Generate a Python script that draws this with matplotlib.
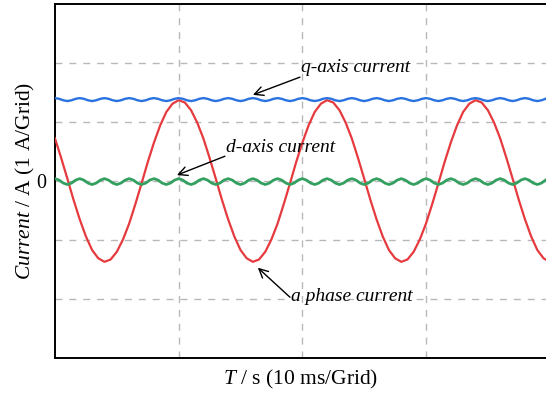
import numpy as np
import matplotlib
matplotlib.use("Agg")
import matplotlib.pyplot as plt

plt.rcParams['font.family'] = ['Liberation Serif', 'DejaVu Serif']
plt.rcParams['mathtext.fontset'] = 'custom'
plt.rcParams['mathtext.rm'] = 'Liberation Serif'
plt.rcParams['mathtext.it'] = 'Liberation Serif:italic'

# ---- data (time in ms, current in A) ----
t_phase_step = 0.5
ia_phase = [
    0.72, 0.39, 0.04, -0.32, -0.65, -0.94, -1.17, -1.31, -1.37, -1.33, -1.20, -0.99,
    -0.72, -0.39, -0.04, 0.32, 0.65, 0.94, 1.17, 1.31, 1.37, 1.33, 1.20, 0.99,
    0.72, 0.39, 0.04, -0.32, -0.65, -0.94, -1.17, -1.31, -1.37, -1.33, -1.20, -0.99,
    -0.72, -0.39, -0.04, 0.32, 0.65, 0.94, 1.17, 1.31, 1.37, 1.33, 1.20, 0.99,
    0.72, 0.39, 0.04, -0.32, -0.65, -0.94, -1.17, -1.31, -1.37, -1.33, -1.20, -0.99,
    -0.72, -0.39, -0.04, 0.32, 0.65, 0.94, 1.17, 1.31, 1.37, 1.33, 1.20, 0.99,
    0.72, 0.39, 0.04, -0.32, -0.65, -0.94, -1.17, -1.31, -1.37,
]

t_dq_step = 1.0 / 3.0
iq_current = [
    1.405, 1.393, 1.368, 1.355, 1.368, 1.393,
    1.405, 1.393, 1.368, 1.355, 1.368, 1.393,
    1.405, 1.393, 1.368, 1.355, 1.368, 1.393,
    1.405, 1.393, 1.368, 1.355, 1.368, 1.393,
    1.405, 1.393, 1.368, 1.355, 1.368, 1.393,
    1.405, 1.393, 1.368, 1.355, 1.368, 1.393,
    1.405, 1.393, 1.368, 1.355, 1.368, 1.393,
    1.405, 1.393, 1.368, 1.355, 1.368, 1.393,
    1.405, 1.393, 1.368, 1.355, 1.368, 1.393,
    1.405, 1.393, 1.368, 1.355, 1.368, 1.393,
    1.405, 1.393, 1.368, 1.355, 1.368, 1.393,
    1.405, 1.393, 1.368, 1.355, 1.368, 1.393,
    1.405, 1.393, 1.368, 1.355, 1.368, 1.393,
    1.405, 1.393, 1.368, 1.355, 1.368, 1.393,
    1.405, 1.393, 1.368, 1.355, 1.368, 1.393,
    1.405, 1.393, 1.368, 1.355, 1.368, 1.393,
    1.405, 1.393, 1.368, 1.355, 1.368, 1.393,
    1.405, 1.393, 1.368, 1.355, 1.368, 1.393,
    1.405, 1.393, 1.368, 1.355, 1.368, 1.393,
    1.405, 1.393, 1.368, 1.355, 1.368, 1.393,
]
id_current = [
    0.040, 0.015, -0.035, -0.060, -0.035, 0.015,
    0.040, 0.015, -0.035, -0.060, -0.035, 0.015,
    0.040, 0.015, -0.035, -0.060, -0.035, 0.015,
    0.040, 0.015, -0.035, -0.060, -0.035, 0.015,
    0.040, 0.015, -0.035, -0.060, -0.035, 0.015,
    0.040, 0.015, -0.035, -0.060, -0.035, 0.015,
    0.040, 0.015, -0.035, -0.060, -0.035, 0.015,
    0.040, 0.015, -0.035, -0.060, -0.035, 0.015,
    0.040, 0.015, -0.035, -0.060, -0.035, 0.015,
    0.040, 0.015, -0.035, -0.060, -0.035, 0.015,
    0.040, 0.015, -0.035, -0.060, -0.035, 0.015,
    0.040, 0.015, -0.035, -0.060, -0.035, 0.015,
    0.040, 0.015, -0.035, -0.060, -0.035, 0.015,
    0.040, 0.015, -0.035, -0.060, -0.035, 0.015,
    0.040, 0.015, -0.035, -0.060, -0.035, 0.015,
    0.040, 0.015, -0.035, -0.060, -0.035, 0.015,
    0.040, 0.015, -0.035, -0.060, -0.035, 0.015,
    0.040, 0.015, -0.035, -0.060, -0.035, 0.015,
    0.040, 0.015, -0.035, -0.060, -0.035, 0.015,
    0.040, 0.015, -0.035, -0.060, -0.035, 0.015,
]

x_grid = [10, 20, 30]
y_grid = [-2, -1, 0, 1, 2]
y_labels = ['', '', '0', '', '']

labels = ['q-axis current', 'd-axis current', 'a phase current']
label_xy = [(19.9, 1.92), (13.8, 0.56), (19.1, -1.95)]
arrow_head = [(16.0, 1.46), (9.86, 0.10), (16.4, -1.47)]
arrow_tail = [(19.8, 1.76), (13.74, 0.42), (19.0, -1.97)]

t_phase = np.arange(len(ia_phase)) * t_phase_step
t_dq = np.arange(len(iq_current)) * t_dq_step

fig = plt.figure(figsize=(5.46, 3.97), dpi=100)
ax = fig.add_axes([55 / 546, 39 / 397, 1 - 55 / 546, 354 / 397])

ax.set_xlim(0, 39.7)
ax.set_ylim(-3, 3)
ax.set_xticks(x_grid)
ax.set_xticklabels([])
ax.set_yticks(y_grid)
ax.set_yticklabels(y_labels, fontsize=14.5)
ax.tick_params(length=0, pad=6)
ax.grid(True, color='#b8b8b8', linestyle=(0, (5, 5)), linewidth=1.0)
ax.set_axisbelow(True)

for s in ['left', 'bottom', 'top']:
    ax.spines[s].set_linewidth(1.4)
    ax.spines[s].set_color('black')
ax.spines['right'].set_visible(False)

ax.plot(t_phase, ia_phase, color='#e63a3e', lw=1.6, zorder=3)
ax.plot(t_dq, iq_current, color='#2a72e0', lw=1.7, zorder=4)
ax.plot(t_dq, id_current, color='#34a060', lw=2.0, zorder=4)

for lab, pos, hd, tl in zip(labels, label_xy, arrow_head, arrow_tail):
    ax.annotate('', xy=hd, xytext=tl,
                arrowprops=dict(arrowstyle='->', lw=1.0, color='black',
                                shrinkA=0, shrinkB=0, mutation_scale=16), zorder=5)
    ax.text(pos[0], pos[1], lab, fontsize=14, fontstyle='italic',
            ha='left', va='center', zorder=5)

ax.set_xlabel(r'$\it{T}$ / s (10 ms/Grid)', fontsize=15.5, labelpad=1)
ax.set_ylabel(r'$\it{Current}$ / A (1 A/Grid)', fontsize=15.5)
ax.yaxis.set_label_coords(-0.037, 0.5)

fig.savefig('out.png', dpi=100)
